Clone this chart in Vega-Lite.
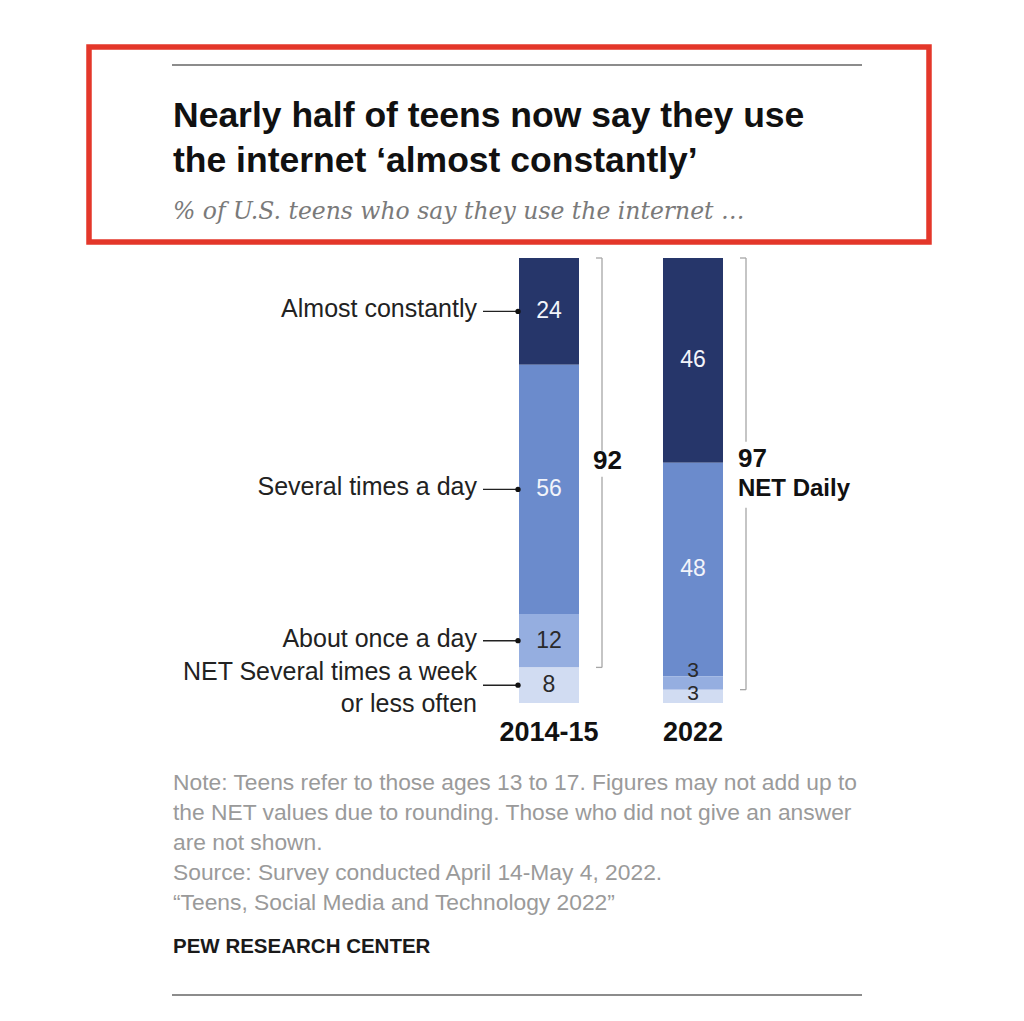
{
  "$schema": "https://vega.github.io/schema/vega-lite/v6.json",
  "width": 840,
  "height": 1021,
  "autosize": "none",
  "padding": {"left": 89, "right": 95, "top": 0, "bottom": 0},
  "background": "white",
  "config": {"view": {"stroke": null}, "font": "Liberation Sans"},
  "title": {
    "text": ["Nearly half of teens now say they use", "the internet ‘almost constantly’"],
    "subtitle": "% of U.S. teens who say they use the internet …",
    "anchor": "start",
    "frame": "group",
    "orient": "top",
    "offset": -223,
    "dx": 84,
    "font": "Liberation Sans",
    "fontSize": 35.5,
    "fontWeight": "bold",
    "color": "#111111",
    "lineHeight": 45,
    "subtitleFont": "DejaVu Serif",
    "subtitleFontStyle": "italic",
    "subtitleFontSize": 23.5,
    "subtitleColor": "#7a7a7a",
    "subtitlePadding": 20
  },
  "datasets": {
    "bars": [
      {"period": "2014-15", "cat": "Almost constantly", "value": 24, "rank": 4},
      {"period": "2014-15", "cat": "Several times a day", "value": 56, "rank": 3},
      {"period": "2014-15", "cat": "About once a day", "value": 12, "rank": 2},
      {"period": "2014-15", "cat": "NET Several times a week\nor less often", "value": 8, "rank": 1},
      {"period": "2022", "cat": "Almost constantly", "value": 46, "rank": 4},
      {"period": "2022", "cat": "Several times a day", "value": 48, "rank": 3},
      {"period": "2022", "cat": "About once a day", "value": 3, "rank": 2},
      {"period": "2022", "cat": "NET Several times a week\nor less often", "value": 3, "rank": 1}
    ]
  },
  "layer": [
    {
      "data": {"values": [{"box": "highlight"}]},
      "mark": {"type": "rect", "fill": "transparent", "stroke": "#e4372a", "strokeWidth": 5.5},
      "encoding": {
        "y": {"datum": 147.416, "type": "quantitative", "axis": null},
        "y2": {"datum": 103.596}
      }
    },
    {
      "data": {"values": [{"line": "top"}]},
      "mark": {"type": "rule", "xOffset": -377, "x2Offset": 169, "stroke": "#8c8c8c", "strokeWidth": 2},
      "encoding": {
        "x": {"datum": "2014-15", "type": "nominal", "axis": null},
        "x2": {"datum": "2022"},
        "y": {"datum": 143.37, "type": "quantitative", "axis": null}
      }
    },
    {
      "data": {"values": [{"line": "bottom"}]},
      "mark": {"type": "rule", "xOffset": -377, "x2Offset": 169, "stroke": "#8c8c8c", "strokeWidth": 2},
      "encoding": {
        "x": {"datum": "2014-15", "type": "nominal", "axis": null},
        "x2": {"datum": "2022"},
        "y": {"datum": -65.6, "type": "quantitative", "axis": null}
      }
    },
    {
      "data": {"values": [{"note": "Note: Teens refer to those ages 13 to 17. Figures may not add up to\nthe NET values due to rounding. Those who did not give an answer\nare not shown.\nSource: Survey conducted April 14-May 4, 2022.\n“Teens, Social Media and Technology 2022”"}]},
      "mark": {"type": "text", "align": "left", "baseline": "alphabetic", "dx": -376, "fontSize": 22.8, "lineHeight": 30, "lineBreak": "\n", "color": "#9a9a9a"},
      "encoding": {
        "x": {"datum": "2014-15", "type": "nominal", "axis": null},
        "y": {"datum": -19.55, "type": "quantitative", "axis": null},
        "text": {"field": "note"}
      }
    },
    {
      "data": {"values": [{"source": "PEW RESEARCH CENTER"}]},
      "mark": {"type": "text", "align": "left", "baseline": "alphabetic", "dx": -376, "fontSize": 20.5, "fontWeight": "bold", "color": "#1a1a1a"},
      "encoding": {
        "x": {"datum": "2014-15", "type": "nominal", "axis": null},
        "y": {"datum": -56.18, "type": "quantitative", "axis": null},
        "text": {"field": "source"}
      }
    },
    {
      "data": {"name": "bars"},
      "transform": [
        {"stack": "value", "groupby": ["period"], "sort": [{"field": "rank", "order": "ascending"}], "as": ["y0", "y1"]}
      ],
      "layer": [
        {
          "mark": {"type": "bar"},
          "encoding": {
            "x": {
              "field": "period", "type": "nominal",
              "scale": {"type": "band", "domain": ["2014-15", "2022"], "range": [430, 634], "paddingInner": 0.5833, "paddingOuter": 0},
              "axis": null
            },
            "y": {"field": "y1", "type": "quantitative", "scale": {"domain": [-71.461, 157.977], "nice": false, "zero": false}, "axis": null},
            "y2": {"field": "y0"},
            "color": {
              "field": "cat", "type": "nominal",
              "scale": {"domain": ["Almost constantly", "Several times a day", "About once a day", "NET Several times a week\nor less often"], "range": ["#26366a", "#6b8bcc", "#95aee0", "#d1dcf2"]},
              "legend": null
            }
          }
        },
        {
          "transform": [
            {"fold": ["y0", "y1"], "as": ["k", "v"]},
            {"aggregate": [{"op": "mean", "field": "v", "as": "mid"}], "groupby": ["period", "cat", "value", "rank"]},
            {"filter": "!(datum.period === '2022' && datum.rank <= 2)"}
          ],
          "mark": {"type": "text", "align": "center", "baseline": "middle", "fontSize": 23},
          "encoding": {
            "x": {"field": "period", "type": "nominal", "axis": null},
            "y": {"field": "mid", "type": "quantitative", "axis": null},
            "text": {"field": "value", "type": "quantitative"},
            "color": {"condition": {"test": "datum.rank >= 3", "value": "#f2f4fa"}, "value": "#2a2a2a"}
          }
        },
        {
          "transform": [
            {"fold": ["y0", "y1"], "as": ["k", "v"]},
            {"aggregate": [{"op": "mean", "field": "v", "as": "mid"}], "groupby": ["period", "cat", "value", "rank"]},
            {"filter": "datum.period === '2022' && datum.rank === 2"}
          ],
          "mark": {"type": "text", "align": "center", "baseline": "middle", "fontSize": 21, "dy": -11.5, "color": "#2a2a2a"},
          "encoding": {
            "x": {"field": "period", "type": "nominal", "axis": null},
            "y": {"field": "mid", "type": "quantitative", "axis": null},
            "text": {"field": "value", "type": "quantitative"}
          }
        },
        {
          "transform": [
            {"fold": ["y0", "y1"], "as": ["k", "v"]},
            {"aggregate": [{"op": "mean", "field": "v", "as": "mid"}], "groupby": ["period", "cat", "value", "rank"]},
            {"filter": "datum.period === '2022' && datum.rank === 1"}
          ],
          "mark": {"type": "text", "align": "center", "baseline": "middle", "fontSize": 21, "dy": -2, "color": "#2a2a2a"},
          "encoding": {
            "x": {"field": "period", "type": "nominal", "axis": null},
            "y": {"field": "mid", "type": "quantitative", "axis": null},
            "text": {"field": "value", "type": "quantitative"}
          }
        },
        {
          "transform": [
            {"filter": "datum.period === '2014-15'"},
            {"fold": ["y0", "y1"], "as": ["k", "v"]},
            {"aggregate": [{"op": "mean", "field": "v", "as": "mid"}], "groupby": ["period", "cat", "rank"]}
          ],
          "layer": [
            {
              "transform": [{"filter": "datum.rank > 1"}],
              "mark": {"type": "text", "align": "right", "baseline": "middle", "dx": -72, "dy": -2, "fontSize": 25, "color": "#222222"},
              "encoding": {
                "x": {"field": "period", "type": "nominal", "axis": null},
                "y": {"field": "mid", "type": "quantitative", "axis": null},
                "text": {"field": "cat"}
              }
            },
            {
              "transform": [{"filter": "datum.rank === 1"}],
              "mark": {"type": "text", "align": "right", "baseline": "middle", "dx": -72, "dy": -13, "fontSize": 25, "lineHeight": 32, "lineBreak": "\n", "color": "#222222"},
              "encoding": {
                "x": {"field": "period", "type": "nominal", "axis": null},
                "y": {"field": "mid", "type": "quantitative", "axis": null},
                "text": {"field": "cat"}
              }
            },
            {
              "mark": {"type": "rule", "xOffset": -66, "x2Offset": -31, "stroke": "#222222", "strokeWidth": 1.4},
              "encoding": {
                "x": {"field": "period", "type": "nominal", "axis": null},
                "x2": {"field": "period"},
                "y": {"field": "mid", "type": "quantitative", "axis": null}
              }
            },
            {
              "mark": {"type": "point", "filled": true, "xOffset": -31, "size": 28, "color": "#111111", "opacity": 1},
              "encoding": {
                "x": {"field": "period", "type": "nominal", "axis": null},
                "y": {"field": "mid", "type": "quantitative", "axis": null}
              }
            }
          ]
        },
        {
          "transform": [
            {"aggregate": [{"op": "min", "field": "y0", "as": "base"}], "groupby": ["period"]}
          ],
          "mark": {"type": "text", "align": "center", "baseline": "middle", "dy": 30, "fontSize": 27, "fontWeight": "bold", "color": "#111111"},
          "encoding": {
            "x": {"field": "period", "type": "nominal", "axis": null},
            "y": {"field": "base", "type": "quantitative", "axis": null},
            "text": {"field": "period"}
          }
        },
        {
          "transform": [
            {"filter": "datum.rank > 1"},
            {"aggregate": [
              {"op": "sum", "field": "value", "as": "net"},
              {"op": "min", "field": "y0", "as": "lo"},
              {"op": "max", "field": "y1", "as": "hi"}
            ], "groupby": ["period"]},
            {"fold": ["lo", "hi"], "as": ["k", "v"]},
            {"joinaggregate": [{"op": "mean", "field": "v", "as": "mid"}], "groupby": ["period"]}
          ],
          "layer": [
            {
              "mark": {"type": "rule", "xOffset": 47, "x2Offset": 53, "stroke": "#a6a6a6", "strokeWidth": 1.3},
              "encoding": {
                "x": {"field": "period", "type": "nominal", "axis": null},
                "x2": {"field": "period"},
                "y": {"field": "v", "type": "quantitative", "axis": null}
              }
            },
            {
              "transform": [{"filter": "datum.k === 'lo' && datum.period === '2014-15'"}],
              "mark": {"type": "rule", "xOffset": 53, "y2Offset": 14, "stroke": "#a6a6a6", "strokeWidth": 1.3},
              "encoding": {
                "x": {"field": "period", "type": "nominal", "axis": null},
                "y": {"field": "v", "type": "quantitative", "axis": null},
                "y2": {"field": "mid"}
              }
            },
            {
              "transform": [{"filter": "datum.k === 'hi' && datum.period === '2014-15'"}],
              "mark": {"type": "rule", "xOffset": 53, "yOffset": -12, "stroke": "#a6a6a6", "strokeWidth": 1.3},
              "encoding": {
                "x": {"field": "period", "type": "nominal", "axis": null},
                "y": {"field": "mid", "type": "quantitative", "axis": null},
                "y2": {"field": "v"}
              }
            },
            {
              "transform": [{"filter": "datum.k === 'lo' && datum.period === '2022'"}],
              "mark": {"type": "rule", "xOffset": 53, "y2Offset": 34, "stroke": "#a6a6a6", "strokeWidth": 1.3},
              "encoding": {
                "x": {"field": "period", "type": "nominal", "axis": null},
                "y": {"field": "v", "type": "quantitative", "axis": null},
                "y2": {"field": "mid"}
              }
            },
            {
              "transform": [{"filter": "datum.k === 'hi' && datum.period === '2022'"}],
              "mark": {"type": "rule", "xOffset": 53, "yOffset": -32, "stroke": "#a6a6a6", "strokeWidth": 1.3},
              "encoding": {
                "x": {"field": "period", "type": "nominal", "axis": null},
                "y": {"field": "mid", "type": "quantitative", "axis": null},
                "y2": {"field": "v"}
              }
            },
            {
              "transform": [{"filter": "datum.k === 'lo' && datum.period === '2014-15'"}],
              "mark": {"type": "text", "align": "left", "baseline": "middle", "dx": 44, "dy": -2, "fontSize": 26, "fontWeight": "bold", "color": "#111111"},
              "encoding": {
                "x": {"field": "period", "type": "nominal", "axis": null},
                "y": {"field": "mid", "type": "quantitative", "axis": null},
                "text": {"field": "net", "type": "quantitative"}
              }
            },
            {
              "transform": [{"filter": "datum.k === 'lo' && datum.period === '2022'"}],
              "mark": {"type": "text", "align": "left", "baseline": "middle", "dx": 45, "dy": -15, "fontSize": 26, "fontWeight": "bold", "color": "#111111"},
              "encoding": {
                "x": {"field": "period", "type": "nominal", "axis": null},
                "y": {"field": "mid", "type": "quantitative", "axis": null},
                "text": {"field": "net", "type": "quantitative"}
              }
            },
            {
              "transform": [{"filter": "datum.k === 'lo' && datum.period === '2022'"}],
              "mark": {"type": "text", "align": "left", "baseline": "middle", "dx": 45, "dy": 15, "fontSize": 24, "fontWeight": "bold", "color": "#111111", "text": "NET Daily"},
              "encoding": {
                "x": {"field": "period", "type": "nominal", "axis": null},
                "y": {"field": "mid", "type": "quantitative", "axis": null}
              }
            }
          ]
        }
      ]
    }
  ]
}
